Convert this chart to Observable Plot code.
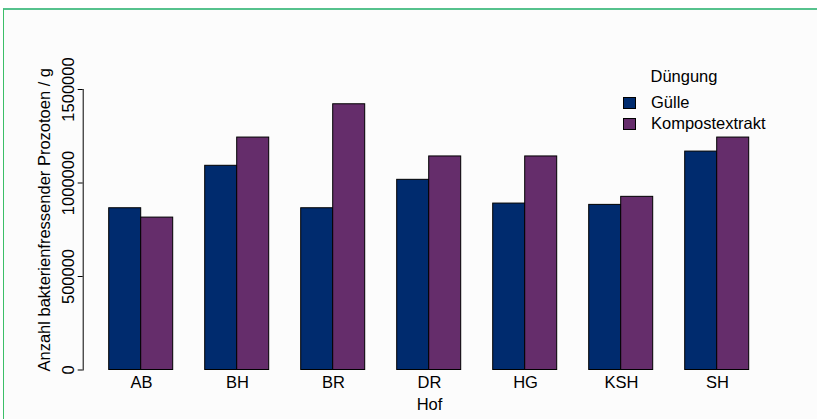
<!DOCTYPE html>
<html>
<head>
<meta charset="utf-8">
<script src="https://cdn.jsdelivr.net/npm/d3@7"></script>
<script src="https://cdn.jsdelivr.net/npm/@observablehq/plot@0.6"></script>
<style>
  html, body { margin: 0; padding: 0; background: #ffffff; }
  #wrap { position: relative; width: 817px; height: 419px; overflow: hidden;
          font-family: "Liberation Sans", Arial, Helvetica, sans-serif; color: #000; }
  #panel { position: absolute; left: 3px; top: 8px; width: 830px; height: 430px;
           border-top: 2px solid #56c28d; border-left: 1.5px solid #3cbf68; background: #fcfcfc; }
  #chart { position: absolute; left: 0; top: 0; }
  .lg { position: absolute; font-size: 16.5px; line-height: 19px; white-space: nowrap; }
  .sw { position: absolute; width: 11px; height: 10px; border: 1px solid #000; }
</style>
</head>
<body>
<div id="wrap">
  <div id="panel"></div>
  <div id="chart"></div>
  <div id="legend"></div>
</div>
<script>
// ---- data ----
const hofs = ["AB", "BH", "BR", "DR", "HG", "KSH", "SH"];
const duengung = ["Gülle", "Kompostextrakt"];
const guelle  = [865000, 1092000, 865000, 1017000, 890000, 883000, 1168000];
const kompost = [815000, 1243000, 1421000, 1142000, 1142000, 926000, 1243000];
const yTicks = [0, 500000, 1000000, 1500000];
const colors = ["#002b6e", "#652d6b"];
const xTitle = "Hof";
const yTitle = "Anzahl bakterienfressender Prozotoen / g";
const legendTitle = "Düngung";

const data = hofs.flatMap((h, i) => [
  {Hof: h, Düngung: duengung[0], value: guelle[i]},
  {Hof: h, Düngung: duengung[1], value: kompost[i]}
]);

const chart = Plot.plot({
  width: 817,
  height: 419,
  marginLeft: 107.3,
  marginRight: 66,
  marginTop: 89,
  marginBottom: 49.5,
  style: {background: "transparent", fontFamily: "'Liberation Sans', Arial, Helvetica, sans-serif",
          fontSize: "16.5px", color: "black", overflow: "visible"},
  facet: {marginTop: 0, marginBottom: 0, marginLeft: 0, marginRight: 0},
  fx: {domain: hofs, paddingInner: 1/3, paddingOuter: 0, label: xTitle},
  x: {domain: duengung, padding: 0, axis: null},
  y: {domain: [0, 1500000]},
  color: {domain: duengung, range: colors},
  marks: [
    Plot.barY(data, {fx: "Hof", x: "Düngung", y: "value", fill: "Düngung", stroke: "black", strokeWidth: 1}),
    Plot.axisY({ticks: yTicks, tickFormat: d => String(d), tickSize: 5, tickRotate: -90,
                dx: -26.3, label: null, facetAnchor: "left"}),
    Plot.frame({anchor: "left", facetAnchor: "left", insetLeft: -26.3}),
    Plot.text([yTitle], {frameAnchor: "left", facetAnchor: "left", rotate: -90, dx: -59.3, dy: -10,
                         lineAnchor: "bottom", textAnchor: "middle"}),
    Plot.axisFx({anchor: "bottom", tickSize: 0, tickPadding: 6.5, label: xTitle, labelAnchor: "center", labelOffset: 39.5})
  ]
});
document.getElementById("chart").appendChild(chart);

// legend (colors from the plot's color scale)
const cs = chart.scale("color");
const lg = document.getElementById("legend");
const t = document.createElement("div");
t.className = "lg"; t.textContent = legendTitle;
t.style.left = "650.5px"; t.style.top = "66.5px";
lg.appendChild(t);
cs.domain.forEach((d, i) => {
  const sw = document.createElement("div");
  sw.className = "sw";
  sw.style.background = cs.range[i];
  sw.style.left = "622.5px"; sw.style.top = (96.7 + i * 20.8) + "px";
  lg.appendChild(sw);
  const lab = document.createElement("div");
  lab.className = "lg"; lab.textContent = d;
  lab.style.left = "651px"; lab.style.top = (93 + i * 20.8) + "px";
  lg.appendChild(lab);
});
</script>
</body>
</html>
